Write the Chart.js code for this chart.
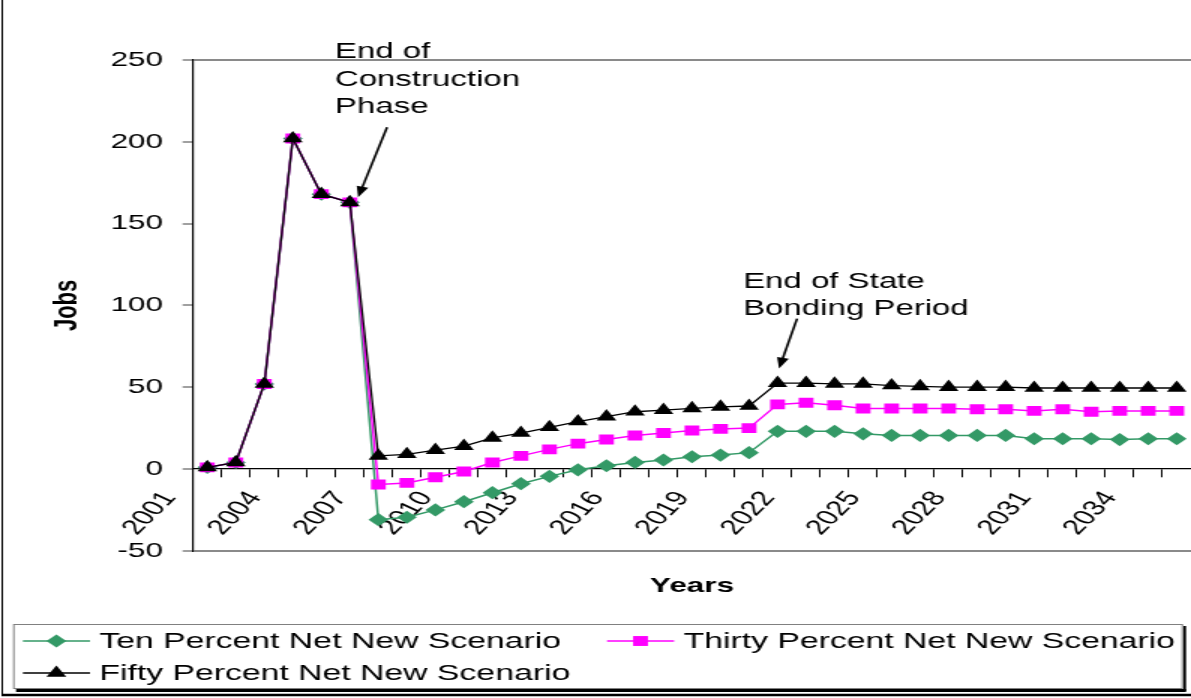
<!DOCTYPE html>
<html>
<head>
<meta charset="utf-8">
<title>Jobs by scenario</title>
<script src="https://cdn.jsdelivr.net/npm/chart.js@4.4.1/dist/chart.umd.min.js"></script>
<style>
  html, body { margin: 0; padding: 0; background: #fff; overflow: hidden; }
  canvas { display: block; }
</style>
</head>
<body>
<!-- drawn at 794 px and stretched to 1191 px, like the wide original -->
<canvas id="jobsChart" width="794" height="698" style="width:1191px;height:698px"></canvas>
<script>
// Categories (years)
const years = ['2001', '2002', '2003', '2004', '2005', '2006', '2007', '2008', '2009', '2010',
               '2011', '2012', '2013', '2014', '2015', '2016', '2017', '2018', '2019', '2020',
               '2021', '2022', '2023', '2024', '2025', '2026', '2027', '2028', '2029', '2030',
               '2031', '2032', '2033', '2034', '2035'];

// Jobs per scenario
const tenPercent = [1, 4, 52, 202, 168, 163, -31, -29.5, -25, -20, -14.5, -9, -4.5, -0.5, 2, 4, 5.5, 7.5, 8.5, 10,
                    23, 23, 23, 21.5, 20.5, 20.5, 20.5, 20.5, 20.5, 18.5, 18.5, 18.5, 18, 18.5, 18.5];
const thirtyPercent = [1, 4, 52, 202, 168, 163, -9.5, -8.5, -5, -1.5, 4, 8, 12, 15.5, 18, 20.5, 22, 23.5, 24.5, 25,
                       39.5, 40.5, 39, 37, 37, 37, 37, 36.5, 36.5, 35.5, 36.5, 35, 35.5, 35.5, 35.5];
const fiftyPercent = [1, 4, 52, 202, 168, 163, 8, 9, 11.5, 14, 19, 22, 25.5, 29, 32, 35, 36, 37, 38, 38.5,
                      52.5, 52.5, 52, 52, 51, 50.5, 50, 50, 50, 49.5, 49.5, 49.5, 49.5, 49.5, 49.5];

const seriesNames = ['Ten Percent Net New Scenario', 'Thirty Percent Net New Scenario', 'Fifty Percent Net New Scenario'];

// Y axis tick labels
const jobTicks = [-50, 0, 50, 100, 150, 200, 250];

// Callouts
const notes = [
  { lines: ['End of', 'Construction', 'Phase'], year: '2006', value: 163 },
  { lines: ['End of State', 'Bonding Period'], year: '2021', value: 52.5 }
];

Chart.defaults.font.family = "'Liberation Sans', Arial, sans-serif";
Chart.defaults.color = '#000';

// offsets (px) of each callout from the point it points at
const noteLayout = [
  { textDx: -10, textDy: -150, lineH: 27.5, tipDx: 5.5, tipDy: -5, tailDx: 24.8, tailDy: -75 },
  { textDx: -23, textDy: -101.5, lineH: 27, tipDx: 1, tipDy: -14.5, tailDx: 13, tailDy: -64.5 }
];

const calloutPlugin = {
  id: 'callouts',
  afterDatasetsDraw(chart) {
    const ctx = chart.ctx;
    const xs = chart.scales.x, ys = chart.scales.y;
    ctx.save();
    ctx.fillStyle = '#000';
    ctx.strokeStyle = '#000';
    ctx.font = "22px 'Liberation Sans', Arial, sans-serif";
    ctx.textAlign = 'left';
    ctx.textBaseline = 'middle';
    notes.forEach((note, n) => {
      const lay = noteLayout[n];
      const px = xs.getPixelForValue(years.indexOf(note.year));
      const py = ys.getPixelForValue(note.value);
      note.lines.forEach((line, i) => {
        ctx.fillText(line, px + lay.textDx, py + lay.textDy + i * lay.lineH);
      });
      // arrow
      const tx = px + lay.tipDx, ty = py + lay.tipDy;
      const sx = px + lay.tailDx, sy = py + lay.tailDy;
      const ang = Math.atan2(ty - sy, tx - sx);
      const headLen = 11, headW = 4;
      ctx.lineWidth = 1.6;
      ctx.beginPath();
      ctx.moveTo(sx, sy);
      ctx.lineTo(tx - Math.cos(ang) * headLen * 0.8, ty - Math.sin(ang) * headLen * 0.8);
      ctx.stroke();
      ctx.beginPath();
      ctx.moveTo(tx, ty);
      ctx.lineTo(tx - Math.cos(ang) * headLen + Math.sin(ang) * headW, ty - Math.sin(ang) * headLen - Math.cos(ang) * headW);
      ctx.lineTo(tx - Math.cos(ang) * headLen - Math.sin(ang) * headW, ty - Math.sin(ang) * headLen + Math.cos(ang) * headW);
      ctx.closePath();
      ctx.fill();
    });
    ctx.restore();
  }
};

// boxed legend with line + marker samples, and the outer frame
const legendBox = { left: 8.7, top: 624, right: 788.7, bottom: 689 };
const legendSlots = [{ x: 15.3, y: 641 }, { x: 404.7, y: 641 }, { x: 15.3, y: 673 }];

const boxLegendPlugin = {
  id: 'boxLegend',
  afterDraw(chart) {
    const ctx = chart.ctx;
    ctx.save();
    // outer chart frame
    ctx.strokeStyle = '#000';
    ctx.lineWidth = 1;
    ctx.beginPath();
    ctx.moveTo(1.5, 0);
    ctx.lineTo(1.5, 694);
    ctx.stroke();
    ctx.lineWidth = 2.5;
    ctx.beginPath();
    ctx.moveTo(1, 695);
    ctx.lineTo(chart.width, 695);
    ctx.stroke();

    // legend frame with shadow
    const b = legendBox;
    ctx.fillStyle = '#000';
    ctx.fillRect(b.left + 2, b.bottom, b.right - b.left, 3);
    ctx.fillRect(b.right, b.top + 2, 2, b.bottom - b.top);
    ctx.fillStyle = '#fff';
    ctx.fillRect(b.left, b.top, b.right - b.left, b.bottom - b.top);
    ctx.strokeStyle = '#808080';
    ctx.lineWidth = 1;
    ctx.strokeRect(b.left + 0.5, b.top + 0.5, b.right - b.left - 1, b.bottom - b.top - 1);

    ctx.font = "22.5px 'Liberation Sans', Arial, sans-serif";
    ctx.textAlign = 'left';
    ctx.textBaseline = 'middle';
    chart.data.datasets.forEach((ds, i) => {
      const slot = legendSlots[i];
      ctx.strokeStyle = ds.borderColor;
      ctx.lineWidth = ds.borderWidth;
      ctx.beginPath();
      ctx.moveTo(slot.x, slot.y);
      ctx.lineTo(slot.x + 44.7, slot.y);
      ctx.stroke();
      ctx.fillStyle = ds.pointBackgroundColor;
      ctx.strokeStyle = ds.pointBorderColor;
      Chart.helpers.drawPoint(ctx, {
        pointStyle: ds.pointStyle, rotation: 0, radius: ds.pointRadius, borderWidth: 0
      }, slot.x + 22.3, slot.y);
      ctx.fillStyle = '#000';
      ctx.fillText(ds.label, slot.x + 51, slot.y + 1);
    });
    ctx.restore();
  }
};

const ctx = document.getElementById('jobsChart').getContext('2d');

const jobsChart = new Chart(ctx, {
  type: 'line',
  data: {
    labels: years,
    datasets: [{
      label: seriesNames[0],
      data: tenPercent,
      borderColor: '#339966',
      backgroundColor: '#339966',
      pointBackgroundColor: '#339966',
      pointBorderColor: '#339966',
      pointStyle: 'rectRot',
      pointRadius: 6.6,
      pointBorderWidth: 0,
      borderWidth: 1.5,
      order: 3
    }, {
      label: seriesNames[1],
      data: thirtyPercent,
      borderColor: '#ff00ff',
      backgroundColor: '#ff00ff',
      pointBackgroundColor: '#ff00ff',
      pointBorderColor: '#ff00ff',
      pointStyle: 'rect',
      pointRadius: 7,
      pointBorderWidth: 0,
      borderWidth: 1.5,
      order: 2
    }, {
      label: seriesNames[2],
      data: fiftyPercent,
      borderColor: '#000000',
      backgroundColor: '#000000',
      pointBackgroundColor: '#000000',
      pointBorderColor: '#000000',
      pointStyle: 'triangle',
      pointRadius: 7.6,
      pointBorderWidth: 0,
      borderWidth: 1.3,
      order: 1
    }]
  },
  options: {
    responsive: false,
    devicePixelRatio: 1,
    animation: false,
    events: [],
    layout: {
      autoPadding: false,
      padding: { top: 60, right: 0, bottom: 89, left: 0 }
    },
    elements: {
      line: { tension: 0 }
    },
    scales: {
      x: {
        type: 'category',
        axis: 'x',
        position: { y: 0 },
        offset: true,
        afterFit: (scale) => {
          // labels hang inside the plot, so they need no side room
          scale.paddingLeft = 0;
          scale.paddingRight = 0;
        },
        border: { display: true, color: '#000', width: 1.3 },
        grid: {
          offset: true,
          drawOnChartArea: false,
          drawTicks: true,
          tickLength: 8,
          tickColor: '#000',
          tickWidth: 1
        },
        ticks: {
          autoSkip: false,
          minRotation: 55,
          maxRotation: 55,
          labelOffset: -25,
          padding: 10,
          font: { size: 21 },
          color: '#000',
          callback: function (value, index) {
            return index % 3 === 0 ? this.getLabelForValue(value) : '';
          }
        }
      },
      y: {
        min: -50,
        max: 250,
        afterBuildTicks: (scale) => {
          scale.ticks = jobTicks.map(v => ({ value: v }));
        },
        afterFit: (scale) => {
          scale.width = 128.7;
        },
        border: { display: true, color: '#000', width: 1.2 },
        grid: {
          drawOnChartArea: true,
          color: (c) => (c.tick && (c.tick.value === 250 || c.tick.value === -50)) ? '#8a8a8a' : 'rgba(0,0,0,0)',
          lineWidth: 2,
          tickLength: 7,
          tickColor: '#808080',
          tickWidth: 1.5
        },
        ticks: {
          padding: 13,
          font: { size: 21 },
          color: '#000'
        },
        title: {
          display: true,
          text: 'Jobs',
          color: '#000',
          font: { size: 22, weight: 'bold' },
          padding: { top: 31.5, bottom: 0 }
        }
      }
    },
    plugins: {
      legend: { display: false },
      tooltip: { enabled: false },
      title: {
        display: true,
        text: 'Years',
        position: 'bottom',
        fullSize: false,
        weight: 100,
        color: '#000',
        font: { size: 21, weight: 'bold' },
        padding: { top: 23, bottom: 10 }
      }
    }
  },
  plugins: [calloutPlugin, boxLegendPlugin]
});
</script>
</body>
</html>
